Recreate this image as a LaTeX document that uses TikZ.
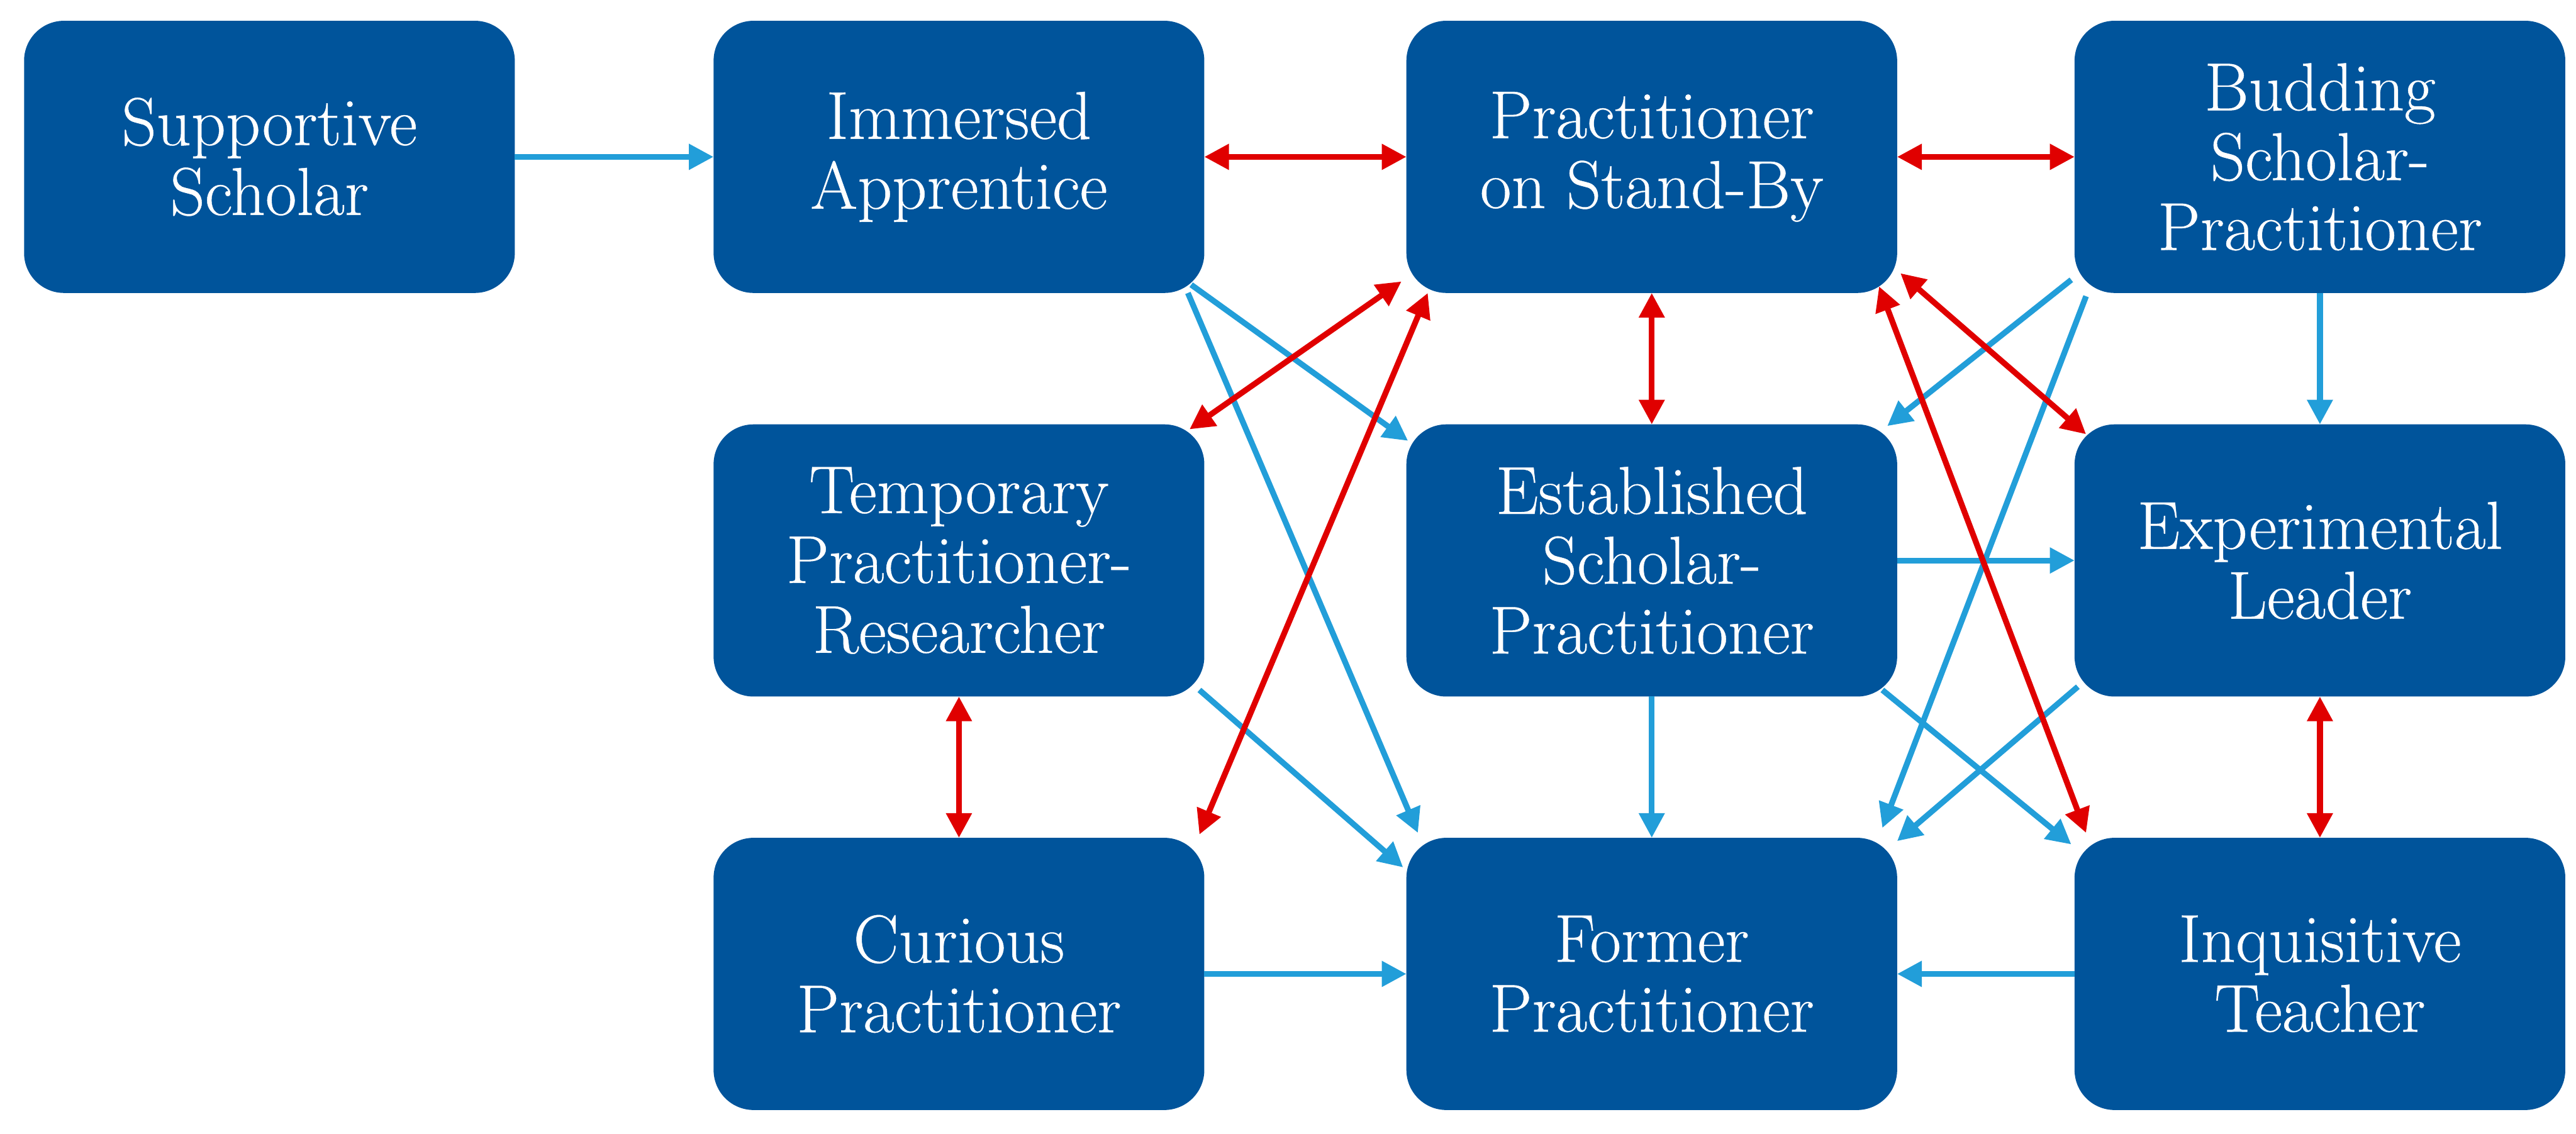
\documentclass[tikz,border=0pt]{standalone}
\usepackage{fontspec}
\setmainfont{Latin Modern Roman}[FakeBold=0.4]
\usepackage{xcolor}
\definecolor{boxblue}{RGB}{0, 84, 155}
\definecolor{lineblue}{RGB}{34, 158, 217}
\definecolor{linered}{RGB}{224, 0, 0}
\usepackage{tikz}
\usetikzlibrary{arrows.meta,positioning}

\begin{document}
\begin{tikzpicture}[
    box/.style={rectangle, draw=boxblue, fill=boxblue, rounded corners=0.48cm, minimum width=5.96cm, minimum height=3.3cm, align=center, text=white, font=\fontsize{23.5}{24.2}\selectfont},
    oneway/.style={-{Triangle[length=0.3cm, width=0.3cm]}, line width=2pt, draw=lineblue},
    twoway/.style={{Triangle[length=0.3cm, width=0.3cm]}-{Triangle[length=0.3cm, width=0.3cm]}, line width=2pt, draw=linered}
]
\useasboundingbox (0,0) rectangle (31.36,-13.8);

\node[box] (supp) at (3.28,-1.91) {Supportive\\Scholar};
\node[box, right=2.42cm of supp] (imm) {Immersed\\Apprentice};
\node[box, right=2.46cm of imm] (psb) {Practitioner\\on Stand-By};
\node[box, right=2.16cm of psb] (bud) {Budding\\Scholar-\\Practitioner};
\node[box, below=1.6cm of imm] (temp) {Temporary\\Practitioner-\\Researcher};
\node[box, below=1.6cm of psb] (est) {Established\\Scholar-\\Practitioner};
\node[box, below=1.6cm of bud] (exp) {Experimental\\Leader};
\node[box, below=1.72cm of temp] (cur) {Curious\\Practitioner};
\node[box, below=1.72cm of est] (former) {Former\\Practitioner};
\node[box, below=1.72cm of exp] (inq) {Inquisitive\\Teacher};

% one-way moves
\draw[oneway] (supp) -- (imm);
\draw[oneway] ([shift={(-0.16,0.1)}]imm.south east) -- ([shift={(0.02,-0.2)}]est.north west);
\draw[oneway] ([shift={(-0.2,0)}]imm.south east) -- ([shift={(0.14,0.06)}]former.north west);
\draw[oneway] ([shift={(-0.06,0.08)}]temp.south east) -- ([shift={(-0.04,-0.36)}]former.north west);
\draw[oneway] (cur) -- (former);
\draw[oneway] (est) -- (former);
\draw[oneway] (est) -- (exp);
\draw[oneway] ([shift={(-0.18,0.08)}]est.south east) -- ([shift={(-0.04,-0.08)}]inq.north west);
\draw[oneway] ([shift={(-0.04,0.16)}]bud.south west) -- ([shift={(-0.12,-0.02)}]est.north east);
\draw[oneway] ([shift={(0.14,-0.04)}]bud.south west) -- ([shift={(-0.18,0.12)}]former.north east);
\draw[oneway] (bud) -- (exp);
\draw[oneway] ([shift={(0.04,0.12)}]exp.south west) -- ([shift={(0,-0.04)}]former.north east);
\draw[oneway] (inq) -- (former);

% two-way moves
\draw[twoway] (imm) -- (psb);
\draw[twoway] (psb) -- (bud);
\draw[twoway] (psb) -- (est);
\draw[twoway] ([shift={(-0.06,0.14)}]psb.south west) -- ([shift={(-0.18,-0.06)}]temp.north east);
\draw[twoway] ([shift={(0.26,0)}]psb.south west) -- ([shift={(-0.06,0.04)}]cur.north east);
\draw[twoway] ([shift={(-0.22,0.08)}]psb.south east) -- ([shift={(0.14,0.06)}]inq.north west);
\draw[twoway] ([shift={(0.04,0.24)}]psb.south east) -- ([shift={(0.14,-0.12)}]exp.north west);
\draw[twoway] (temp) -- (cur);
\draw[twoway] (exp) -- (inq);

\end{tikzpicture}
\end{document}
